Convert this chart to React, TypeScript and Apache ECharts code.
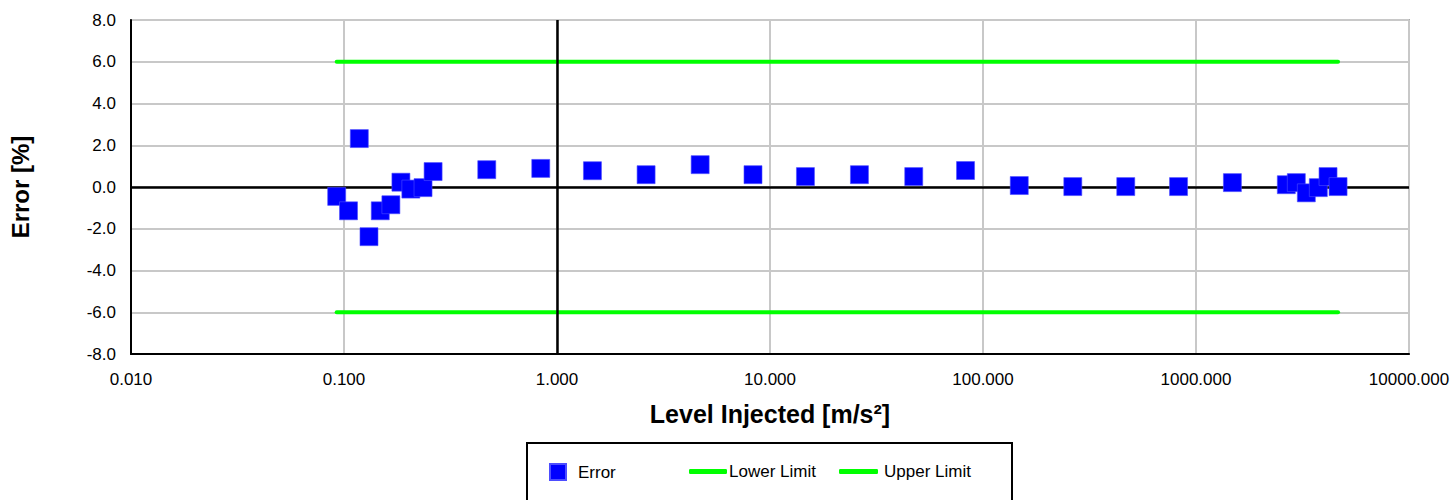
import React, { useEffect, useRef } from "react";
import * as echarts from "echarts";

// Injected level [m/s²] and measured error [%] for each calibration point
const levels = [
  0.0924, 0.105, 0.118, 0.131, 0.148, 0.166, 0.185, 0.206, 0.235, 0.262,
  0.468, 0.839, 1.467, 2.62, 4.7, 8.32, 14.67, 26.3, 47.3, 82.8,
  148, 264, 468, 828, 1482, 2655, 2958, 3296, 3752, 4168, 4645,
];
const errors = [
  -0.45, -1.14, 2.32, -2.38, -1.14, -0.85, 0.23, -0.1, -0.03, 0.74,
  0.83, 0.89, 0.78, 0.59, 1.07, 0.59, 0.5, 0.59, 0.5, 0.79,
  0.07, 0.02, 0.02, 0.02, 0.21, 0.11, 0.21, -0.28, -0.03, 0.5, 0.02,
];

// Tolerance band
const lowerLimit = [-6, -6];
const upperLimit = [6, 6];

const FONT = "'Liberation Sans', Arial, Helvetica, sans-serif";
const BLUE = "#0000ff";
const GREEN = "#00ff00";

export default function App() {
  const ref = useRef<HTMLDivElement>(null);

  useEffect(() => {
    if (!ref.current) return;
    const chart = echarts.init(ref.current, undefined, { renderer: "svg" });

    const limitX = [levels[0], levels[levels.length - 1]];
    const errorData = levels.map((x, i) => [x, errors[i]]);
    const lowerData = limitX.map((x, i) => [x, lowerLimit[i]]);
    const upperData = limitX.map((x, i) => [x, upperLimit[i]]);

    const legendBase = {
      top: 458,
      orient: "horizontal" as const,
      selectedMode: false,
      textStyle: { fontFamily: FONT, fontSize: 17, color: "#000" },
    };

    chart.setOption({
      animation: false,
      backgroundColor: "#fff",
      grid: {
        left: 131,
        right: 46,
        top: 20,
        bottom: 146,
        show: true,
        borderColor: "#aaaaaa",
        borderWidth: 2,
        backgroundColor: "transparent",
      },
      xAxis: {
        type: "log",
        logBase: 10,
        min: 0.01,
        max: 10000,
        name: "Level Injected [m/s²]",
        nameLocation: "middle",
        nameGap: 47,
        nameTextStyle: {
          fontFamily: FONT,
          fontSize: 25,
          fontWeight: "bold",
          color: "#000",
        },
        axisLine: { show: true, onZero: false, lineStyle: { color: "#000", width: 2 } },
        axisTick: { show: false },
        axisLabel: {
          fontFamily: FONT,
          fontSize: 17,
          color: "#000",
          margin: 17,
          formatter: (v: number) => v.toFixed(3),
        },
        splitLine: { show: true, lineStyle: { color: "#c8c8c8", width: 2 } },
        minorTick: { show: false },
        minorSplitLine: { show: false },
      },
      yAxis: {
        type: "value",
        min: -8,
        max: 8,
        interval: 2,
        name: "Error [%]",
        nameLocation: "middle",
        nameGap: 99,
        nameTextStyle: {
          fontFamily: FONT,
          fontSize: 24,
          fontWeight: "bold",
          color: "#000",
        },
        axisLine: { show: true, onZero: false, lineStyle: { color: "#000", width: 2 } },
        axisTick: { show: false },
        axisLabel: {
          fontFamily: FONT,
          fontSize: 17,
          color: "#000",
          margin: 15,
          formatter: (v: number) => v.toFixed(1),
        },
        splitLine: { show: true, lineStyle: { color: "#c8c8c8", width: 2 } },
      },
      legend: [
        {
          ...legendBase,
          left: 544,
          data: [{ name: "Error", icon: "rect" }],
          itemWidth: 16,
          itemHeight: 16,
          itemGap: 0,
          textStyle: { ...legendBase.textStyle, padding: [0, 0, 0, 7] },
        },
        {
          ...legendBase,
          left: 684,
          data: [{ name: "Lower Limit", icon: "roundRect" }],
          itemWidth: 38,
          itemHeight: 5,
          textStyle: { ...legendBase.textStyle, padding: [0, 0, 0, -3] },
        },
        {
          ...legendBase,
          left: 834,
          data: [{ name: "Upper Limit", icon: "roundRect" }],
          itemWidth: 39,
          itemHeight: 5,
          textStyle: { ...legendBase.textStyle, padding: [0, 0, 0, 1] },
        },
      ],
      graphic: [
        {
          type: "rect",
          z: -1,
          shape: { x: 527, y: 443, width: 485, height: 80 },
          style: { fill: "#fff", stroke: "#000", lineWidth: 2 },
          silent: true,
        },
      ],
      series: [
        {
          name: "Lower Limit",
          type: "line",
          data: lowerData,
          symbol: "none",
          z: 3,
          lineStyle: { color: GREEN, width: 4, cap: "round" },
          itemStyle: { color: GREEN },
          markLine: {
            silent: true,
            symbol: "none",
            label: { show: false },
            lineStyle: { color: "#000", width: 2.5, type: "solid" },
            data: [{ yAxis: 0 }, { xAxis: 1 }],
          },
        },
        {
          name: "Upper Limit",
          type: "line",
          data: upperData,
          symbol: "none",
          z: 3,
          lineStyle: { color: GREEN, width: 4, cap: "round" },
          itemStyle: { color: GREEN },
        },
        {
          name: "Error",
          type: "scatter",
          data: errorData,
          symbol: "rect",
          symbolSize: 18,
          z: 5,
          itemStyle: { color: BLUE, opacity: 1, borderColor: "#4d4dff", borderWidth: 0.6 },
        },
      ],
    });

    return () => chart.dispose();
  }, []);

  return (
    <div
      ref={ref}
      style={{ position: "fixed", left: 0, top: 0, width: 1455, height: 500 }}
    />
  );
}
